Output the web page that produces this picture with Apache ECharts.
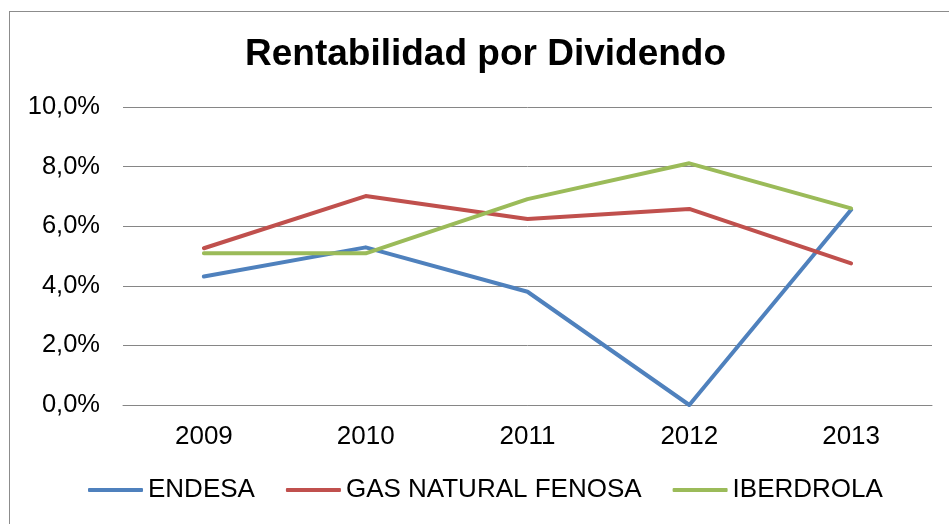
<!DOCTYPE html>
<html>
<head>
<meta charset="utf-8">
<script src="https://cdn.jsdelivr.net/npm/echarts@6/dist/echarts.min.js"></script>
<style>
  html, body { margin: 0; padding: 0; background: #fff; overflow: hidden; }
  #wrap { position: relative; width: 949px; height: 524px; overflow: hidden; }
  /* marco del gráfico (solo se ven los bordes superior e izquierdo) */
  #frame { position: absolute; left: 9px; top: 11px; width: 1000px; height: 600px;
           border: 1px solid #8c8c8c; box-sizing: border-box; }
  #chart { position: absolute; left: 0; top: 0; width: 949px; height: 524px; }
</style>
</head>
<body>
<div id="wrap">
  <div id="frame"></div>
  <div id="chart"></div>
</div>
<script>
// datos
var years = ["2009", "2010", "2011", "2012", "2013"];
var endesa = [4.31, 5.29, 3.80, 0.0, 6.55];
var gasNatural = [5.26, 7.01, 6.24, 6.58, 4.75];
var iberdrola = [5.09, 5.09, 6.91, 8.11, 6.60];
var seriesNames = ["ENDESA", "GAS NATURAL FENOSA", "IBERDROLA"];
var colors = ["#4F81BD", "#C0504D", "#9BBB59"];

var font = "'Liberation Sans', Arial, sans-serif";

var chart = echarts.init(document.getElementById("chart"), null, { renderer: "canvas" });

function lineSerie(name, data, color) {
  return {
    name: name,
    type: "line",
    data: data,
    symbol: "none",
    smooth: false,
    color: color,
    lineStyle: { color: color, width: 4, cap: "round", join: "round" },
    animation: false
  };
}

chart.setOption({
  backgroundColor: "transparent",
  title: {
    text: "Rentabilidad por Dividendo",
    left: 240,
    top: 31,
    textStyle: { fontFamily: font, fontSize: 37, fontWeight: "bold", color: "#000" }
  },
  grid: { left: 123, right: 17, top: 107, bottom: 119 },
  xAxis: {
    type: "category",
    data: years,
    boundaryGap: true,
    axisLine: { show: true, lineStyle: { color: "#868686", width: 1 } },
    axisTick: { show: false },
    axisLabel: { margin: 19, fontFamily: font, fontSize: 26, color: "#000" }
  },
  yAxis: {
    type: "value",
    min: 0,
    max: 10,
    interval: 2,
    axisLine: { show: false },
    axisTick: { show: false },
    splitLine: { lineStyle: { color: "#868686", width: 1 } },
    axisLabel: {
      margin: 23,
      fontFamily: font,
      fontSize: 25.5,
      color: "#000",
      formatter: function (v) { return v.toFixed(1).replace(".", ",") + "%"; }
    }
  },
  legend: {
    data: seriesNames,
    left: 88,
    top: 477,
    padding: 0,
    itemWidth: 55,
    itemHeight: 4,
    itemGap: 31,
    icon: "roundRect",
    textStyle: { fontFamily: font, fontSize: 26, color: "#000", padding: [0, 0, 0, 0] }
  },
  series: [
    lineSerie(seriesNames[0], endesa, colors[0]),
    lineSerie(seriesNames[1], gasNatural, colors[1]),
    lineSerie(seriesNames[2], iberdrola, colors[2])
  ]
});
</script>
</body>
</html>
